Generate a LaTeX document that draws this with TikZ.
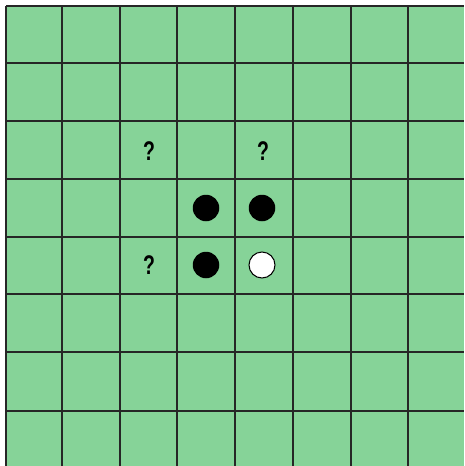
\documentclass[tikz,border=0pt]{standalone}
\usepackage{graphicx}
\usepackage{fontspec}
\setmainfont{Liberation Sans}
\definecolor{board}{RGB}{134,211,152}
\newcommand{\narrowq}{\scalebox{0.72}[1]{\fontsize{27}{30}\selectfont\bfseries ?}}
\tikzset{
  gridline/.style={line width=1.2pt, black!85},
  blackstone/.style={circle, fill=black, minimum size=26.5pt, inner sep=0pt},
  whitestone/.style={circle, fill=white, draw=black, line width=1pt, minimum size=26pt, inner sep=0pt},
  qmark/.style={inner sep=0pt}
}
\begin{document}
\begin{tikzpicture}[x=1pt,y=-1pt]
\useasboundingbox (0,0) rectangle (464,466);
\fill[white] (0,0) rectangle (464,466);
\fill[board] (6,6) rectangle (464,466);
\foreach \x in {6,62,120,177,235,293,351,408} \draw[gridline] (\x,6) -- (\x,466);
\foreach \y in {6,63,121,179,237,294,352,411} \draw[gridline] (6,\y) -- (464,\y);
\node[blackstone] (b1) at (206,208) {};
\node[blackstone] (b2) at (262,208) {};
\node[blackstone] (b3) at (206,265) {};
\node[whitestone] (w1) at (262,265) {};
\node[qmark] (q1) at (149,151) {\narrowq};
\node[qmark] (q2) at (263,151) {\narrowq};
\node[qmark] (q3) at (149,265) {\narrowq};
\end{tikzpicture}
\end{document}
